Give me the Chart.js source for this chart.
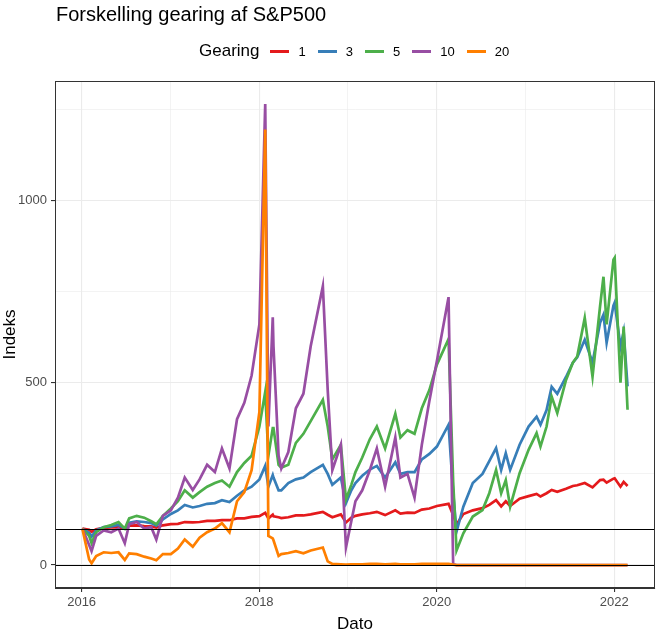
<!DOCTYPE html>
<html lang="da">
<head>
<meta charset="UTF-8">
<title>Forskelling gearing af S&amp;P500</title>
<script src="https://cdn.jsdelivr.net/npm/chart.js"></script>
<style>
    body { margin: 0; background: #fff; font-family: "Liberation Sans", Arial, sans-serif; }
    #wrap { position: relative; width: 663px; height: 635px; }
    #title { position: absolute; left: 56px; top: 3px; font-size: 20px; color: #000; white-space: nowrap; }
    #legend { position: absolute; left: 199px; top: 40px; height: 22px; display: flex; align-items: center; white-space: nowrap; }
    #legend .ttl { font-size: 17px; margin-right: 11px; }
    #legend .key { display: inline-block; width: 19px; height: 3px; margin-right: 9px; }
    #legend .lbl { font-size: 13px; margin-right: 12px; color: #000; }
</style>
</head>
<body>
<div id="wrap">
    <canvas id="chart" width="663" height="635"></canvas>
    <div id="title">Forskelling gearing af S&amp;P500</div>
    <div id="legend"></div>
</div>
<script>
// Datoer
const dates = [
    '2016-01-04','2016-02-01','2016-02-11','2016-03-01','2016-04-01','2016-05-02','2016-06-01','2016-06-27',
    '2016-07-15','2016-08-15','2016-09-15','2016-10-14','2016-11-04','2016-12-01',
    '2017-01-03','2017-02-01','2017-03-01','2017-04-03','2017-05-01','2017-06-01','2017-07-03','2017-08-01',
    '2017-09-01','2017-10-02','2017-11-01','2017-12-01','2018-01-02','2018-01-26','2018-02-08',
    '2018-02-26','2018-03-01','2018-03-22','2018-04-02','2018-05-01','2018-06-01','2018-07-02','2018-08-01',
    '2018-09-20','2018-10-10','2018-10-29','2018-12-03','2018-12-24',
    '2019-01-15','2019-02-01','2019-03-01','2019-04-01','2019-04-30','2019-06-03','2019-07-15','2019-08-05',
    '2019-09-03','2019-10-02','2019-11-01','2019-12-02','2020-01-02','2020-02-19','2020-03-09',
    '2020-03-23','2020-04-20','2020-05-29','2020-07-08','2020-08-05','2020-09-02','2020-09-23','2020-10-12',
    '2020-10-30','2020-12-08','2021-01-14','2021-02-16','2021-03-04','2021-03-29','2021-04-19','2021-05-12',
    '2021-06-17','2021-07-15','2021-08-02','2021-09-02','2021-10-04','2021-11-04','2021-11-18','2021-12-01',
    '2021-12-29','2022-01-03','2022-01-27','2022-02-09','2022-02-25'
];

const gearing = ['1', '3', '5', '10', '20'];
const colors = ['#E41A1C', '#377EB8', '#4DAF4A', '#984EA3', '#FF7F00'];

const g1 = [
    100,97,91,98,102,103,104,100,108,109,107,106,103,109,
    112,113,118,117,118,121,121,123,123,128,128,132,134,143,128,
    138,134,131,129,131,136,136,139,146,138,131,139,117,
    130,135,139,142,146,137,150,141,144,143,152,155,162,168,137,
    111,140,150,156,165,178,161,175,162,182,189,195,188,197,206,201,209,217,219,225,
    213,233,234,226,237,238,215,228,217
];
const g3 = [
    100,88,78,95,104,106,110,100,116,120,118,115,108,125,
    140,150,165,158,162,168,170,178,173,190,205,215,235,272,215,
    247,240,205,205,225,235,240,255,275,250,220,240,170,
    205,225,245,262,272,240,282,250,255,255,290,305,325,385,200,
    92,160,225,250,285,321,261,307,261,330,380,407,385,425,489,470,516,555,570,618,
    555,665,687,610,712,720,599,640,490
];
const g5 = [
    100,80,60,90,104,110,118,100,128,135,130,120,112,135,
    155,175,205,185,200,215,225,232,215,255,280,300,380,475,300,
    376,376,275,267,275,335,360,395,453,380,290,330,180,
    220,255,295,345,380,320,415,350,370,360,430,480,550,620,230,
    40,87,133,151,197,261,197,233,160,252,316,362,325,380,462,417,508,555,572,678,
    517,710,791,660,838,843,500,654,426
];
const g10 = [
    100,55,38,80,95,90,100,60,112,118,100,104,70,135,
    150,185,240,206,235,275,255,320,265,400,445,520,660,1265,380,
    680,600,300,265,310,430,470,600,765,480,260,330,48,
    120,175,205,260,320,215,350,240,250,185,330,450,560,735,3,
    0,0,0,0,0,0,0,0,0,0,0,0,0,0,0,0,0,0,0,0,
    0,0,0,0,0,0,0,0,0
];
const g20 = [
    100,15,5,25,35,33,35,14,32,30,23,18,13,30,
    30,45,70,50,75,90,100,115,90,175,200,260,420,1195,80,
    73,68,25,30,33,38,32,40,48,10,3,2,1,
    2,2,2,3,3,2,3,2,2,2,3,3,3,3,1,
    0,0,0,0,0,0,0,0,0,0,0,0,0,0,0,0,0,0,0,0,
    0,0,0,0,0,0,0,0,0
];
const series = [g1, g3, g5, g10, g20];

// vandrette referencelinjer
const refLines = [0, 100];

function toYear(s) {
    const d = Date.parse(s + 'T00:00:00Z');
    const y = Number(s.slice(0, 4));
    const a = Date.UTC(y, 0, 1), b = Date.UTC(y + 1, 0, 1);
    return y + (d - a) / (b - a);
}

const xs = dates.map(toYear);

const datasets = series.map((vals, i) => ({
    label: gearing[i],
    data: vals.map((v, j) => ({ x: xs[j], y: v })),
    borderColor: colors[i],
    backgroundColor: colors[i],
    borderWidth: 2.7,
    pointRadius: 0,
    tension: 0,
    fill: false,
    order: series.length - i
}));

// legende
const legend = document.getElementById('legend');
legend.innerHTML = '<span class="ttl">Gearing</span>' + gearing.map((g, i) =>
    `<span class="key" style="background:${colors[i]}"></span><span class="lbl">${g}</span>`).join('');

const panelPlugin = {
    id: 'panel',
    afterDatasetsDraw(chart) {
        const { ctx, chartArea: a, scales: { y } } = chart;
        ctx.save();
        ctx.strokeStyle = '#000';
        ctx.lineWidth = 1;
        refLines.forEach(v => {
            const py = Math.round(y.getPixelForValue(v)) + 0.5;
            ctx.beginPath();
            ctx.moveTo(a.left, py);
            ctx.lineTo(a.right, py);
            ctx.stroke();
        });
        ctx.strokeStyle = '#333';
        ctx.strokeRect(a.left + 0.5, a.top + 0.5, a.right - a.left - 1, a.bottom - a.top - 1);
        ctx.restore();
    }
};

const isMajorX = v => Math.round(v) % 2 === 0;
const isMajorY = v => Math.round(v) % 500 === 0;

new Chart(document.getElementById('chart'), {
    type: 'line',
    data: { datasets },
    plugins: [panelPlugin],
    options: {
        responsive: false,
        animation: false,
        layout: { padding: { top: 81, right: 8, left: 0, bottom: 0 } },
        plugins: { legend: { display: false }, tooltip: { enabled: false } },
        scales: {
            x: {
                type: 'linear',
                min: 2015.70,
                max: 2022.46,
                afterFit: s => { s.height = 47; },
                ticks: {
                    stepSize: 1,
                    includeBounds: false,
                    autoSkip: false,
                    maxRotation: 0,
                    padding: 3,
                    color: '#4D4D4D',
                    font: { family: 'Liberation Sans', size: 13 },
                    callback: v => isMajorX(v) ? String(Math.round(v)) : ''
                },
                grid: {
                    color: '#EBEBEB',
                    lineWidth: c => (c.tick && isMajorX(c.tick.value)) ? 1.1 : 0.6,
                    tickColor: c => (c.tick && isMajorX(c.tick.value)) ? '#333' : 'rgba(0,0,0,0)',
                    tickLength: 4
                },
                border: { display: true, color: '#333' },
                title: {
                    display: true,
                    text: 'Dato',
                    color: '#000',
                    font: { family: 'Liberation Sans', size: 17 },
                    padding: { top: 2, bottom: 0 }
                }
            },
            y: {
                min: -63,
                max: 1328,
                afterFit: s => { s.width = 55; },
                ticks: {
                    stepSize: 250,
                    includeBounds: false,
                    padding: 4,
                    color: '#4D4D4D',
                    font: { family: 'Liberation Sans', size: 13 },
                    callback: v => isMajorY(v) ? String(Math.round(v)) : ''
                },
                grid: {
                    color: '#EBEBEB',
                    lineWidth: c => (c.tick && isMajorY(c.tick.value)) ? 1.1 : 0.6,
                    tickColor: c => (c.tick && isMajorY(c.tick.value)) ? '#333' : 'rgba(0,0,0,0)',
                    tickLength: 4
                },
                border: { display: true, color: '#333' },
                title: {
                    display: true,
                    text: 'Indeks',
                    color: '#000',
                    font: { family: 'Liberation Sans', size: 17 },
                    padding: { top: 0, bottom: 4 }
                }
            }
        }
    }
});
</script>
</body>
</html>
